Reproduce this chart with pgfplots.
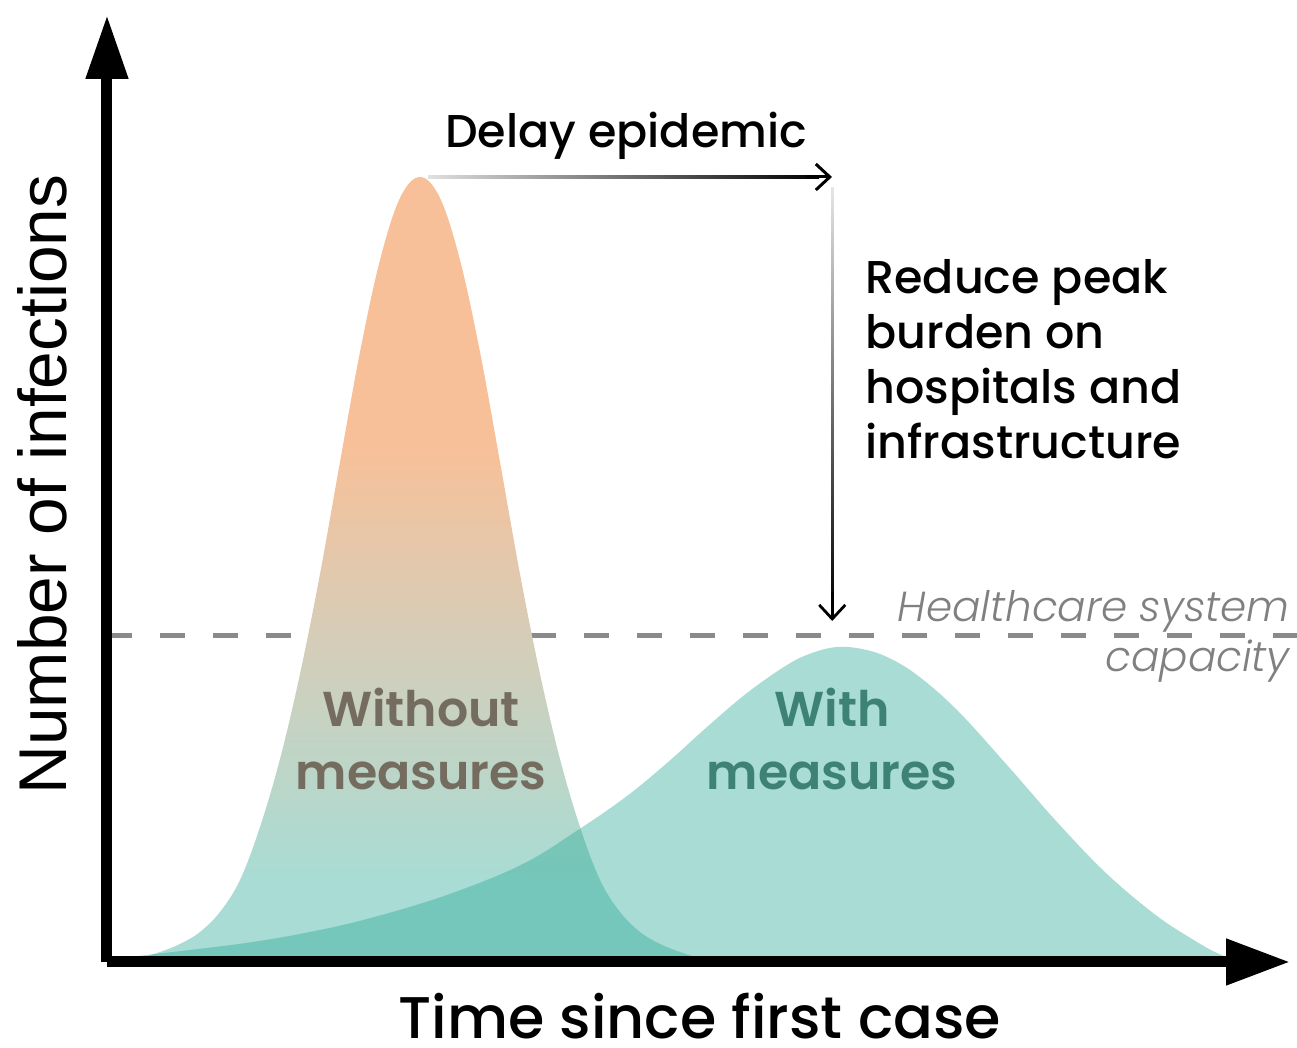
\documentclass[border=0pt]{standalone}
\usepackage{pgfplots}
\pgfplotsset{compat=1.18}
\usetikzlibrary{arrows.meta}
\usepackage{fontspec}
\setmainfont{Poppins}
\IfFontExistsTF{Poppins Medium}{\newfontfamily\fmed{Poppins Medium}}{\newfontfamily\fmed{Poppins}}
\IfFontExistsTF{Poppins SemiBold}{\newfontfamily\fsemi{Poppins SemiBold}}{\newcommand\fsemi{\bfseries}}
\IfFontExistsTF{Poppins Light}{\newfontfamily\flight{Poppins Light}}{\newfontfamily\flight{Poppins}}
\newfontfamily\arialf{Liberation Sans}
\definecolor{peach}{RGB}{248,192,152}
\definecolor{tanM}{RGB}{214,205,184}
\definecolor{tealL}{RGB}{168,220,212}
\definecolor{tealD}{RGB}{38,168,148}
\definecolor{woText}{RGB}{117,108,96}
\definecolor{wText}{RGB}{62,130,118}
\definecolor{dashgray}{RGB}{138,138,138}
\definecolor{capgray}{RGB}{128,128,128}
\pgfdeclareverticalshading{noMeasures}{100bp}{color(0bp)=(tealL); color(30.2bp)=(tealL); color(45.8bp)=(tanM); color(58bp)=(peach); color(100bp)=(peach)}
\begin{document}
\begin{tikzpicture}
\begin{axis}[
  width=591.5pt, height=473.5pt, scale only axis,
  xmin=0, xmax=1183, ymin=0, ymax=947,
  axis lines=left, axis on top,
  xtick=\empty, ytick=\empty,
  clip=false,
  axis line style={line width=5.5pt, black},
  x axis line style={-{Triangle[length=32pt,width=22pt]}},
  y axis line style={-{Triangle[length=32pt,width=20pt]}},
  xlabel={Time since first case},
  ylabel={Number of infections},
  xlabel style={at={(axis description cs:0.501,-0.0568)}, anchor=center, inner sep=0pt, font=\fmed\fontsize{29.4}{32}\selectfont},
  ylabel style={at={(axis description cs:-0.055,0.504)}, anchor=center, inner sep=0pt, font=\arialf\fontsize{33.8}{36}\selectfont},
]
% healthcare capacity line
\addplot[dashgray, line width=2.5pt, dash pattern=on 12.5pt off 14pt] coordinates {(0,326) (1190,326)};
% without measures
\addplot[draw=none, shade, shading=noMeasures, smooth, tension=0.6] coordinates {
(13,0) (33,4) (53,10) (73,18) (93,30) (113,50) (133,82) (153,135) (173,203) (193,288) (213,388) (233,500) (253,610) (273,702) (293,764) (313,785)
(333,764) (353,702) (373,610) (393,500) (413,388) (433,288) (453,203) (473,135) (493,82) (513,50) (533,30) (553,18) (573,10) (593,4) (613,1) (633,0)
} \closedcycle;
% with measures
\addplot[draw=none, fill=tealD, fill opacity=0.4, smooth, tension=0.6] coordinates {
(5,0) (24,5) (83,12) (146,20) (203,30) (260,43) (337,66) (414,97) (471,132) (520,166) (560,199) (600,235) (640,269) (680,297) (705,309) (730,315)
(755,313) (780,305) (810,287) (850,252) (900,197) (950,140) (1000,88) (1050,46) (1090,20) (1110,9) (1125,3) (1135,0)
} \closedcycle;
% texts
\tikzset{every node/.append style={inner sep=0pt}}
\node[anchor=base, text=woText, font=\fsemi\fontsize{24.5}{28}\selectfont] at (axis cs:314,235) {Without};
\node[anchor=base, text=woText, font=\fsemi\fontsize{24.5}{28}\selectfont] at (axis cs:314,172) {measures};
\node[anchor=base, text=wText, font=\fsemi\fontsize{24.5}{28}\selectfont] at (axis cs:725,235) {With};
\node[anchor=base, text=wText, font=\fsemi\fontsize{24.5}{28}\selectfont] at (axis cs:725,172) {measures};
\node[anchor=base, font=\fmed\fontsize{23}{28}\selectfont] at (axis cs:519,814) {Delay epidemic};
\node[anchor=base west, font=\fmed\fontsize{23}{28}\selectfont] at (axis cs:758,668) {Reduce peak};
\node[anchor=base west, font=\fmed\fontsize{23}{28}\selectfont] at (axis cs:758,613) {burden on};
\node[anchor=base west, font=\fmed\fontsize{23}{28}\selectfont] at (axis cs:758,558) {hospitals and};
\node[anchor=base west, font=\fmed\fontsize{23}{28}\selectfont] at (axis cs:758,503) {infrastructure};
\node[anchor=base east, text=capgray, font=\flight\itshape\fontsize{21}{24}\selectfont] at (axis cs:1183,340) {Healthcare system};
\node[anchor=base east, text=capgray, font=\flight\itshape\fontsize{21}{24}\selectfont] at (axis cs:1183,290) {capacity};
% arrows
\shade[left color=black!12, right color=black] (axis cs:321,783.5) rectangle (axis cs:712,786.5);
\draw[line width=1.5pt, -{Straight Barb[length=7pt,width=13pt]}] (axis cs:700,785) -- (axis cs:725,785);
\shade[top color=black!10, bottom color=black] (axis cs:724,352) rectangle (axis cs:726.5,774);
\draw[line width=1.4pt, -{Straight Barb[length=7pt,width=13pt]}] (axis cs:725.25,370) -- (axis cs:725.25,341);
\coordinate (BL) at (axis cs:-107,-86);
\coordinate (TR) at (axis cs:1190,962);
\end{axis}
\pgfresetboundingbox
\path (BL) rectangle (TR);
\end{tikzpicture}
\end{document}
